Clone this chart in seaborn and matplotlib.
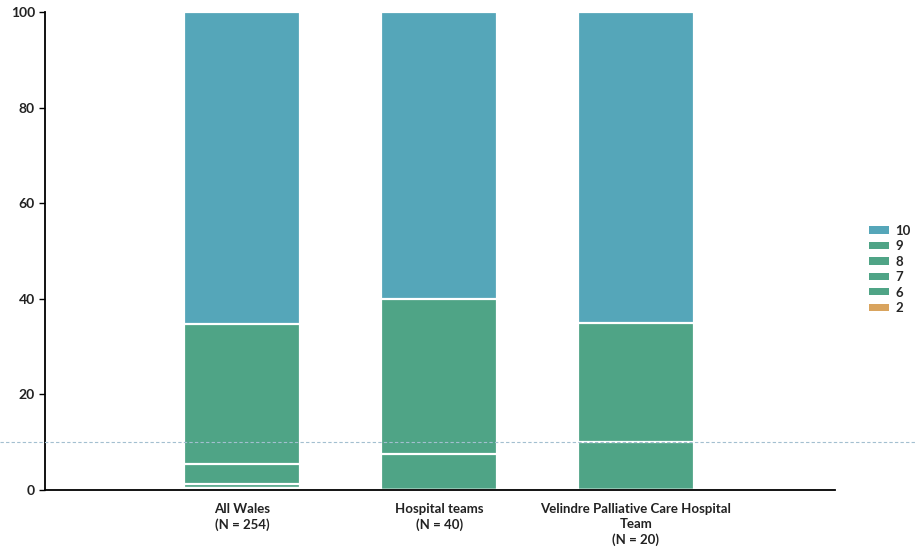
import matplotlib
matplotlib.use('Agg')
import matplotlib.pyplot as plt
import matplotlib.transforms as mtransforms
from matplotlib.patches import Patch
import seaborn as sns
import pandas as pd
import numpy as np

sns.set_style('white')
plt.rcParams['font.family'] = ['Lato', 'DejaVu Sans']

# data (percent of responses per score)
groups = ['All Wales\n(N = 254)', 'Hospital teams\n(N = 40)',
          'Velindre Palliative Care Hospital\nTeam\n(N = 20)']
scores = ['2', '6', '7', '8', '9', '10']
pct_2 = [0.39, 0.0, 0.0]
pct_6 = [0.0, 0.0, 0.0]
pct_7 = [0.79, 0.0, 0.0]
pct_8 = [4.33, 7.5, 10.0]
pct_9 = [29.13, 32.5, 25.0]
pct_10 = [65.35, 60.0, 65.0]

colors = {'10': '#55a6b9', '9': '#4fa486', '8': '#4fa486', '7': '#4fa486',
          '6': '#4fa486', '2': '#d9a45e'}

df = pd.DataFrame({'group': groups, '2': pct_2, '6': pct_6, '7': pct_7,
                   '8': pct_8, '9': pct_9, '10': pct_10})
cum = df[scores].cumsum(axis=1)

fig, ax = plt.subplots(figsize=(9.15, 5.5), dpi=100)
fig.subplots_adjust(left=0.049, right=0.913, top=0.978, bottom=0.109)

# draw from top layer down so lower layers cover upper ones
for s in reversed(scores):
    sns.barplot(x=df['group'], y=cum[s], color=colors[s], width=0.59,
                edgecolor='white', linewidth=1.6, saturation=1, ax=ax)

ax.set_ylim(0, 100)
ax.set_xlim(-1.005, 3.015)
ax.set_yticks([0, 20, 40, 60, 80, 100])
ax.set_xlabel('')
ax.set_ylabel('')
for sp in ['top', 'right']:
    ax.spines[sp].set_visible(False)
for sp in ['left', 'bottom']:
    ax.spines[sp].set_color('black')
    ax.spines[sp].set_linewidth(1.3)
ax.tick_params(axis='y', left=True, length=4, width=1, color='black',
               labelsize=10, pad=3)
ax.tick_params(axis='x', bottom=False, labelsize=9.5, pad=6)
for lbl in ax.get_xticklabels() + ax.get_yticklabels():
    lbl.set_fontweight('bold')
    lbl.set_color('#222222')
for lbl in ax.get_xticklabels():
    lbl.set_linespacing(1.3)

# faint scanned line across the page
trans = mtransforms.blended_transform_factory(fig.transFigure, ax.transData)
ax.plot([0, 1], [10, 10], transform=trans, clip_on=False, color='#a3bfd0',
        lw=0.8, ls=(0, (3, 2)), zorder=5)

handles = [Patch(facecolor=colors[s], edgecolor='none', label=s)
           for s in ['10', '9', '8', '7', '6', '2']]
leg = fig.legend(handles=handles, loc='center left', bbox_to_anchor=(0.950, 0.51),
                 frameon=False, handlelength=1.4, handleheight=0.45,
                 labelspacing=0.25, handletextpad=0.5, borderaxespad=0,
                 borderpad=0)
for t in leg.get_texts():
    t.set_fontweight('bold')
    t.set_fontsize(9.5)

fig.savefig('out.png', dpi=100)
